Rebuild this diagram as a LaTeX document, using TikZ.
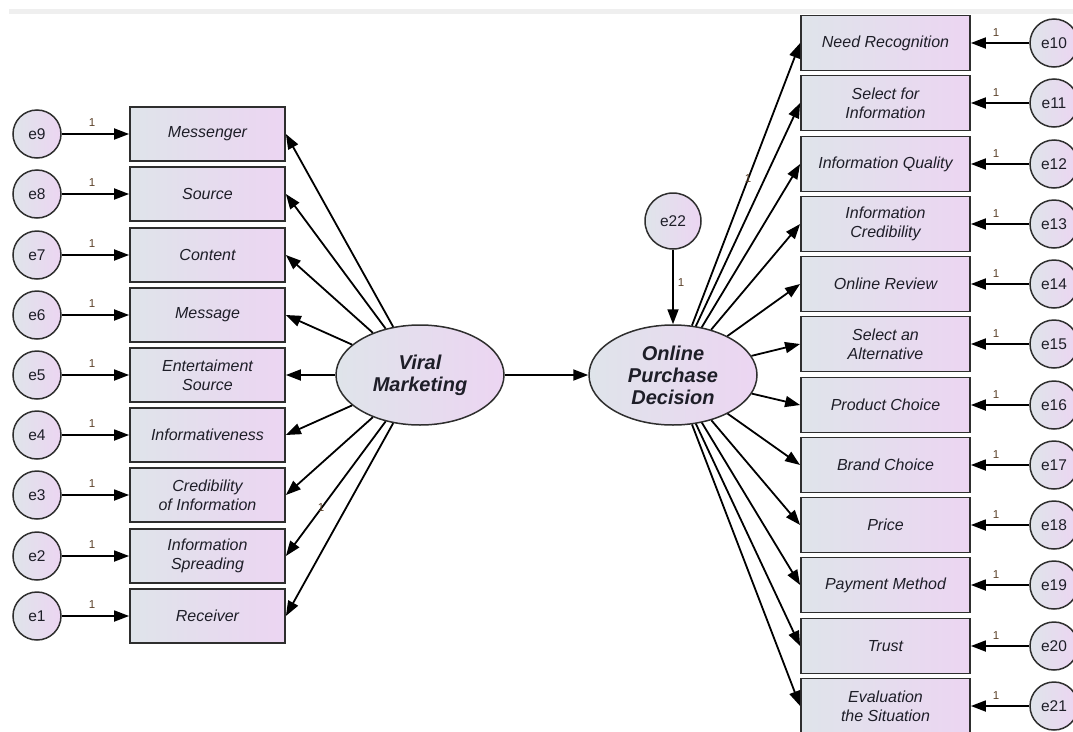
\documentclass[tikz,border=0pt]{standalone}
\usepackage{fontspec}
\setmainfont{Liberation Sans}
\usetikzlibrary{arrows.meta,shapes.geometric}
\definecolor{shadeL}{HTML}{DFE4EA}
\definecolor{shadeR}{HTML}{ECD5F2}
\definecolor{ink}{HTML}{1E1E28}
\definecolor{framec}{HTML}{2E2E2E}
\definecolor{onecol}{HTML}{5A4028}
\definecolor{stripgray}{HTML}{EFEFEF}
\begin{document}
\begin{tikzpicture}[x=1pt,y=-1pt,
  obsL/.style={draw=framec,line width=1.8pt,left color=shadeL,right color=shadeR,
    minimum width=155pt,minimum height=54pt,inner sep=0pt,align=center,
    font=\fontsize{16}{19}\selectfont\itshape,text=ink},
  obsR/.style={obsL,minimum width=169pt,minimum height=55pt},
  err/.style={circle,draw=framec,line width=1.5pt,left color=shadeL,right color=shadeR,
    minimum size=48pt,inner sep=0pt,font=\fontsize{15.5}{18}\selectfont,text=ink},
  lat/.style={ellipse,draw=framec,line width=1.5pt,left color=shadeL,right color=shadeR,
    minimum width=168pt,minimum height=100pt,inner sep=0pt,align=center,
    font=\fontsize{20}{22}\selectfont\bfseries\itshape,text=ink},
  arr/.style={draw=black,line width=1.8pt,-{Triangle[length=15pt,width=11pt]}},
  onelab/.style={font=\fontsize{11.5}{13}\selectfont,text=onecol,inner sep=0pt}]
\useasboundingbox (0,0) rectangle (1073,731);
\fill[stripgray] (9,9) rectangle (1073,14);

% latent variables
\node[lat] (vm) at (420,375) {Viral\\Marketing};
\node[lat] (opd) at (673,375) {Online\\Purchase\\Decision};
\node[err,minimum size=56pt] (e22) at (673,221) {e22};
\draw[arr] (e22) -- (opd);
\node[onelab] (l22) at (681,283) {1};
\draw[arr] (vm) -- (opd);

% indicators of Viral Marketing
\foreach \y/\e/\t in {134/9/Messenger,194/8/Source,255/7/Content,315/6/Message,
    375/5/{Entertaiment\\Source},435/4/Informativeness,495/3/{Credibility\\of Information},
    556/2/{Information\\Spreading},616/1/Receiver}{
  \node[obsL] (o\e) at (207.5,\y) {\t};
  \node[err] (e\e) at (37,\y) {e\e};
  \node[onelab] (l\e) at (92,\y-11) {1};
  \draw[arr] (e\e) -- (o\e);
  \draw[arr] (vm) -- (o\e.east);
}
\node[onelab] (lvm) at (321,508) {1};

% indicators of Online Purchase Decision
\foreach \y/\e/\t in {43/10/Need Recognition,103/11/{Select for\\Information},
    164/12/Information Quality,224/13/{Information\\Credibility},284/14/Online Review,
    344/15/{Select an\\Alternative},405/16/Product Choice,465/17/Brand Choice,
    525/18/Price,585/19/Payment Method,646/20/Trust,706/21/{Evaluation\\the Situation}}{
  \node[obsR] (o\e) at (885.5,\y) {\t};
  \node[err] (e\e) at (1054,\y) {e\e};
  \node[onelab] (l\e) at (996,\y-10) {1};
  \draw[arr] (e\e) -- (o\e);
  \draw[arr] (opd) -- (o\e.west);
}
\node[onelab] (lopd) at (748,179) {1};
\end{tikzpicture}
\end{document}
